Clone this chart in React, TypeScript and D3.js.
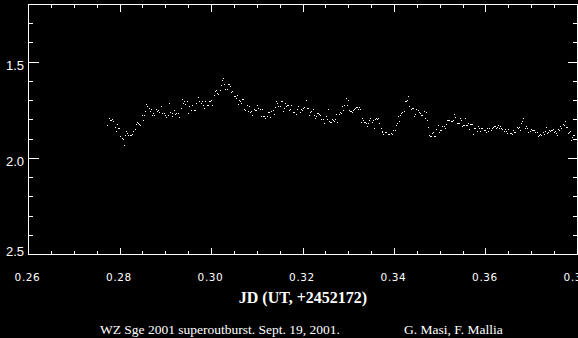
import React, { useRef, useEffect } from 'react';
import * as d3 from 'd3';

// light curve, JD - 2452172
const jd = [
    0.27715, 0.27759, 0.27788, 0.2781, 0.27825, 0.27846, 0.27898, 0.27912, 0.27934, 0.27963,
    0.27978, 0.27999, 0.28043, 0.28065, 0.28095, 0.28109, 0.28131, 0.28153, 0.28182, 0.28211,
    0.28233, 0.28263, 0.28292, 0.28321, 0.2835, 0.28372, 0.28394, 0.28416, 0.2843, 0.28489,
    0.28496, 0.28533, 0.28547, 0.28569, 0.28598, 0.28635, 0.28649, 0.28671, 0.287, 0.28722,
    0.28752, 0.28788, 0.2881, 0.28839, 0.28854, 0.28898, 0.28927, 0.28956, 0.28985, 0.29007,
    0.29051, 0.29073, 0.29102, 0.29131, 0.29146, 0.29182, 0.29204, 0.29233, 0.29263, 0.29292,
    0.29336, 0.29357, 0.29379, 0.29401, 0.29423, 0.2946, 0.29496, 0.29518, 0.29555, 0.29577,
    0.29613, 0.29635, 0.29672, 0.29701, 0.29723,
    0.29767, 0.29789, 0.29818, 0.2984, 0.29862, 0.29905, 0.29927, 0.29956, 0.29978, 0.29993,
    0.30015, 0.30058, 0.3008, 0.30102, 0.30124, 0.30146, 0.3019, 0.30212, 0.30234, 0.30256,
    0.30278, 0.303, 0.30343, 0.30365, 0.30387, 0.30409, 0.30431, 0.30453, 0.30497, 0.30519,
    0.3054, 0.30562, 0.30584, 0.30606, 0.30628, 0.3065, 0.30672, 0.30694, 0.30716, 0.30738,
    0.30781, 0.30803, 0.30825, 0.30847, 0.30869, 0.30891, 0.30935, 0.30957, 0.30979, 0.31,
    0.31022, 0.31066, 0.31088, 0.3111, 0.31132, 0.31154, 0.31176, 0.31219, 0.31241, 0.31263,
    0.31285, 0.31307, 0.31351, 0.31373, 0.31395, 0.31417, 0.31438, 0.3146, 0.31504, 0.31526,
    0.31548, 0.3157, 0.31592, 0.31614, 0.31636, 0.31657, 0.31679, 0.31701, 0.31723, 0.31745,
    0.31789,
    0.3181, 0.31854, 0.31876, 0.31898, 0.31942, 0.31963, 0.31985, 0.32007, 0.32029, 0.32073,
    0.32095, 0.32117, 0.32139, 0.32161, 0.32182, 0.32226, 0.32248, 0.3227, 0.32292, 0.32314,
    0.32336, 0.32358, 0.3238, 0.32401, 0.32445, 0.32467, 0.32511, 0.32533, 0.32555, 0.32577,
    0.32599, 0.3262, 0.32642, 0.32664, 0.32686, 0.32708, 0.3273, 0.32752, 0.32796, 0.32818,
    0.32839, 0.32861, 0.32883, 0.32905, 0.32949, 0.32971, 0.32993, 0.33015, 0.33037, 0.33058,
    0.3308, 0.33102, 0.33124, 0.33146, 0.33168, 0.3319, 0.33212, 0.33234, 0.33256, 0.33277,
    0.33299, 0.33321, 0.33343, 0.33365, 0.33387, 0.33409, 0.33431, 0.33453, 0.33475, 0.33518,
    0.3354, 0.33562, 0.33584, 0.33606, 0.33628, 0.3365, 0.33672, 0.33694, 0.33716, 0.33737,
    0.33759, 0.33803, 0.33825, 0.33847,
    0.33869, 0.33913, 0.33935, 0.33957, 0.34, 0.34022, 0.34044, 0.34066, 0.34088, 0.3411,
    0.34132, 0.34154, 0.34198, 0.3422, 0.34241, 0.34263, 0.34285, 0.34307, 0.34351, 0.34373,
    0.34395, 0.34417, 0.34439, 0.3446, 0.34504, 0.34526, 0.34548, 0.3457, 0.34592, 0.34636,
    0.34658, 0.34679, 0.34701, 0.34723, 0.34745, 0.34767, 0.34789, 0.34811, 0.34833, 0.34855,
    0.34877, 0.34898, 0.34942, 0.34964, 0.34986, 0.35008, 0.3503, 0.35074, 0.35096, 0.35117,
    0.35139, 0.35161, 0.35183, 0.35227, 0.35249, 0.35271, 0.35293, 0.35315, 0.35358, 0.3538,
    0.35402, 0.35424, 0.35446, 0.35468, 0.3549, 0.35512, 0.35534, 0.35555, 0.35577, 0.35599,
    0.35621, 0.35643, 0.35665, 0.35687, 0.35709, 0.35731, 0.35753, 0.35796, 0.35818, 0.3584,
    0.35862, 0.35884, 0.35906,
    0.35949, 0.35971, 0.35993, 0.36015, 0.36037, 0.36059, 0.36102, 0.36124, 0.36146, 0.36168,
    0.3619, 0.36212, 0.36234, 0.36256, 0.36278, 0.36299, 0.36321, 0.36343, 0.36387, 0.36409,
    0.36431, 0.36453, 0.36475, 0.36518, 0.3654, 0.36562, 0.36584, 0.36606, 0.36628, 0.36672,
    0.36694, 0.36716, 0.36737, 0.36759, 0.36781, 0.36803, 0.36847, 0.36869, 0.36891, 0.36913,
    0.36956, 0.36978, 0.37, 0.37022, 0.37044, 0.37066, 0.3711, 0.37132, 0.37154, 0.37175,
    0.37197, 0.37241, 0.37263, 0.37285, 0.37307, 0.37329, 0.37351, 0.37373, 0.37394, 0.37416,
    0.37438, 0.3746, 0.37482, 0.37504, 0.37526, 0.37548, 0.3757, 0.37592, 0.37613, 0.37635,
    0.37679, 0.37701, 0.37723, 0.37745, 0.37767, 0.37789, 0.37811, 0.37832, 0.37854, 0.37876,
    0.37898, 0.3792,
];

const mag = [
    1.824, 1.791, 1.8, 1.8, 1.795, 1.807, 1.838, 1.857, 1.821, 1.841,
    1.841, 1.885, 1.893, 1.898, 1.93, 1.881, 1.859, 1.866, 1.878, 1.881,
    1.881, 1.873, 1.86, 1.846, 1.821, 1.812, 1.817, 1.821, 1.826, 1.772,
    1.8, 1.777, 1.753, 1.718, 1.729, 1.736, 1.755, 1.743, 1.775, 1.765,
    1.777, 1.744, 1.756, 1.748, 1.758, 1.727, 1.763, 1.763, 1.774, 1.784,
    1.774, 1.713, 1.758, 1.765, 1.779, 1.748, 1.769, 1.763, 1.763, 1.784,
    1.737, 1.689, 1.71, 1.704, 1.717, 1.703, 1.763, 1.727, 1.748, 1.723,
    1.748, 1.748, 1.71, 1.68, 1.703,
    1.711, 1.701, 1.722, 1.736, 1.701, 1.722, 1.722, 1.701, 1.701, 1.696,
    1.722, 1.67, 1.652, 1.644, 1.659, 1.665, 1.644, 1.618, 1.592, 1.581,
    1.613, 1.64, 1.639, 1.613, 1.613, 1.623, 1.654, 1.649, 1.675, 1.675,
    1.685, 1.67, 1.715, 1.699, 1.701, 1.711, 1.691, 1.691, 1.743, 1.748,
    1.722, 1.753, 1.727, 1.758, 1.753, 1.774, 1.743, 1.748, 1.748, 1.722,
    1.737, 1.743, 1.779, 1.743, 1.779, 1.779, 1.789, 1.779, 1.758, 1.758,
    1.784, 1.753, 1.748, 1.769, 1.732, 1.701, 1.711, 1.727, 1.727, 1.701,
    1.701, 1.753, 1.737, 1.711, 1.727, 1.722, 1.722, 1.748, 1.743, 1.722,
    1.758,
    1.758, 1.769, 1.743, 1.727, 1.758, 1.743, 1.748, 1.737, 1.732, 1.696,
    1.737, 1.737, 1.774, 1.758, 1.753, 1.743, 1.774, 1.789, 1.779, 1.763,
    1.763, 1.769, 1.774, 1.795, 1.795, 1.815, 1.779, 1.795, 1.743, 1.805,
    1.81, 1.81, 1.795, 1.8, 1.805, 1.795, 1.769, 1.81, 1.769, 1.758,
    1.763, 1.727, 1.748, 1.722, 1.685, 1.722, 1.696, 1.748, 1.753, 1.753,
    1.758, 1.748, 1.743, 1.737, 1.732, 1.732, 1.743, 1.732, 1.743, 1.81,
    1.789, 1.8, 1.81, 1.81, 1.815, 1.831, 1.815, 1.8, 1.789, 1.81,
    1.8, 1.841, 1.795, 1.789, 1.795, 1.789, 1.815, 1.841, 1.857, 1.862,
    1.873, 1.862, 1.862, 1.873,
    1.873, 1.867, 1.873, 1.852, 1.852, 1.826, 1.815, 1.779, 1.805, 1.774,
    1.763, 1.758, 1.753, 1.701, 1.701, 1.696, 1.675, 1.727, 1.743, 1.737,
    1.737, 1.779, 1.769, 1.743, 1.748, 1.758, 1.763, 1.774, 1.774, 1.753,
    1.789, 1.758, 1.8, 1.836, 1.878, 1.883, 1.883, 1.867, 1.862, 1.883,
    1.883, 1.846, 1.826, 1.862, 1.852, 1.852, 1.831, 1.831, 1.841, 1.821,
    1.8, 1.8, 1.8, 1.805, 1.805, 1.8, 1.769, 1.784, 1.815, 1.815,
    1.815, 1.789, 1.8, 1.831, 1.826, 1.826, 1.789, 1.826, 1.826, 1.815,
    1.846, 1.821, 1.821, 1.821, 1.873, 1.841, 1.841, 1.857, 1.831, 1.841,
    1.857, 1.841, 1.841,
    1.852, 1.852, 1.862, 1.841, 1.857, 1.841, 1.852, 1.841, 1.836, 1.831,
    1.831, 1.841, 1.836, 1.826, 1.841, 1.831, 1.841, 1.846, 1.857, 1.846,
    1.857, 1.867, 1.846, 1.867, 1.867, 1.873, 1.852, 1.862, 1.862, 1.836,
    1.841, 1.836, 1.852, 1.815, 1.805, 1.789, 1.841, 1.831, 1.841, 1.862,
    1.857, 1.846, 1.852, 1.852, 1.852, 1.862, 1.862, 1.883, 1.878, 1.873,
    1.878, 1.862, 1.873, 1.857, 1.836, 1.867, 1.862, 1.852, 1.857, 1.852,
    1.852, 1.846, 1.862, 1.857, 1.867, 1.878, 1.846, 1.852, 1.831, 1.841,
    1.821, 1.826, 1.805, 1.836, 1.836, 1.867, 1.862, 1.857, 1.904, 1.888,
    1.878, 1.878,
];

const xTickLabels = [0.26, 0.28, 0.3, 0.32, 0.34, 0.36, 0.38];
const yTickLabels = [1.5, 2.0, 2.5];
const xTitle = 'JD (UT, +2452172)';
const caption = 'WZ Sge 2001 superoutburst. Sept. 19, 2001.';
const credit = 'G. Masi, F. Mallia';

export default function App() {
    const svgRef = useRef<SVGSVGElement | null>(null);

    useEffect(() => {
        const width = 578;
        const height = 338;

        d3.select(svgRef.current).selectAll('*').remove();

        const svg = d3
            .select(svgRef.current)
            .attr('width', width)
            .attr('height', height);

        svg.append('rect')
            .attr('width', width)
            .attr('height', height)
            .attr('fill', 'black');

        const xScale = d3.scaleLinear().domain([0.26, 0.38]).range([28.5, 577.5]);
        const yScale = d3.scaleLinear().domain([1.2, 2.5]).range([4.5, 254.5]);

        const [x0, x1] = xScale.range();
        const [y0, y1] = yScale.range();

        const g = svg.append('g').attr('shape-rendering', 'crispEdges');

        // frame
        g.append('rect')
            .attr('x', x0)
            .attr('y', y0)
            .attr('width', x1 - x0)
            .attr('height', y1 - y0)
            .attr('fill', 'none')
            .attr('stroke', 'white')
            .attr('stroke-width', 1);

        // x ticks, top and bottom
        const xMinor = d3.range(0, 25).map((i) => 0.26 + i * 0.005);
        xMinor.forEach((v, i) => {
            const len = i % 4 === 0 ? 7 : 3.5;
            const px = Math.round(xScale(v) - 0.5) + 0.5;
            g.append('line').attr('x1', px).attr('x2', px).attr('y1', y1).attr('y2', y1 - len).attr('stroke', 'white');
            g.append('line').attr('x1', px).attr('x2', px).attr('y1', y0).attr('y2', y0 + len).attr('stroke', 'white');
        });

        // y ticks, left and right
        const yMinor = d3.range(0, 14).map((i) => 1.2 + i * 0.1);
        yMinor.forEach((v, i) => {
            const len = (i - 3) % 5 === 0 ? 10 : 4.5;
            const py = Math.round(yScale(v) - 0.5) + 0.5;
            g.append('line').attr('x1', x0).attr('x2', x0 + len).attr('y1', py).attr('y2', py).attr('stroke', 'white');
            g.append('line').attr('x1', x1).attr('x2', x1 - len).attr('y1', py).attr('y2', py).attr('stroke', 'white');
        });

        // data points
        g.selectAll('rect.pt')
            .data(d3.zip(jd, mag))
            .enter()
            .append('rect')
            .attr('class', 'pt')
            .attr('x', (d) => Math.round(xScale(d[0])))
            .attr('y', (d) => Math.round(yScale(d[1])))
            .attr('width', 1)
            .attr('height', 1)
            .attr('fill', 'white');

        xTickLabels.forEach((v) => {
            svg.append('text')
                .attr('x', xScale(v) - 1)
                .attr('y', 281)
                .attr('text-anchor', 'middle')
                .text(d3.format('.2f')(v))
                .attr('fill', 'white')
                .attr('font-family', 'DejaVu Sans')
                .attr('font-size', 10.5)
                .attr('letter-spacing', 0.6);
        });

        yTickLabels.forEach((v) => {
            svg.append('text')
                .attr('x', 24)
                .attr('y', Math.min(yScale(v) + 8, 256))
                .attr('text-anchor', 'end')
                .text(d3.format('.1f')(v))
                .attr('fill', 'white')
                .attr('font-family', 'Liberation Sans')
                .attr('font-size', 13);
        });

        svg.append('text')
            .attr('x', (x0 + x1) / 2)
            .attr('y', 303)
            .attr('text-anchor', 'middle')
            .text(xTitle)
            .attr('fill', 'white')
            .attr('font-family', 'Liberation Serif')
            .attr('font-weight', 'bold')
            .attr('font-size', 16);

        svg.append('text')
            .attr('x', 100)
            .attr('y', 334)
            .text(caption)
            .attr('fill', 'white')
            .attr('font-family', 'Liberation Serif')
            .attr('font-size', 13.5);

        svg.append('text')
            .attr('x', 404)
            .attr('y', 334)
            .text(credit)
            .attr('fill', 'white')
            .attr('font-family', 'Liberation Serif')
            .attr('font-size', 13.5);
    }, []);

    return (
        <svg
            ref={svgRef}
            style={{ position: 'absolute', left: 0, top: 0, display: 'block', background: 'black' }}
        ></svg>
    );
}
